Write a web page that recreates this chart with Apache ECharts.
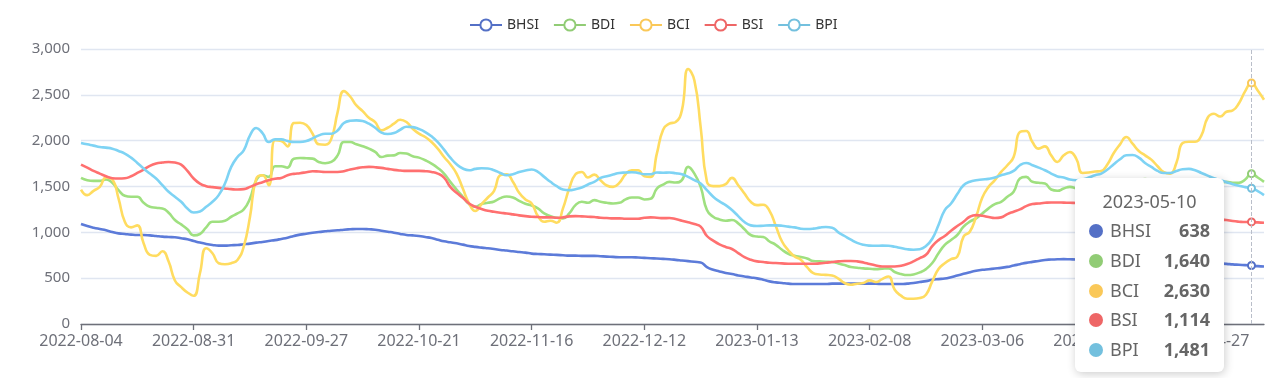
<!DOCTYPE html>
<html>
<head>
<meta charset="utf-8">
<script src="https://cdn.jsdelivr.net/npm/echarts@6/dist/echarts.min.js"></script>
<style>
html,body{margin:0;padding:0;background:#fff;}
#chart{width:1288px;height:378px;}
</style>
</head>
<body>
<div id="chart"></div>
<script>
// ---- categories: Baltic Exchange publication days ----
const firstDay = '2022-08-04';
const lastDay = '2023-05-12';
const closedDays = ['2022-08-29','2022-09-19','2022-12-26','2022-12-27','2022-12-28','2022-12-29','2022-12-30','2023-01-02','2023-04-07','2023-04-10','2023-05-01','2023-05-08'];
function pad(n){return (n<10?'0':'')+n;}
function publicationDays(){
  const out=[];
  const d=new Date(firstDay+'T00:00:00Z');
  const end=new Date(lastDay+'T00:00:00Z');
  while(d<=end){
    const s=d.getUTCFullYear()+'-'+pad(d.getUTCMonth()+1)+'-'+pad(d.getUTCDate());
    const wd=d.getUTCDay();
    if(wd!==0&&wd!==6&&closedDays.indexOf(s)<0) out.push(s);
    d.setUTCDate(d.getUTCDate()+1);
  }
  return out;
}
const dates = publicationDays();

const seriesNames = ['BHSI','BDI','BCI','BSI','BPI'];
const yTicks = {min:0, max:3000, step:500};

const BHSI = [
1091,1069,1051,1036,1022,1004,989,982,975,971,971,967,960,953,949,946,935,924,906,888,873,862,855,855,859,862,870,877,888,895,906,915,
928,942,960,975,985,996,1004,1011,1018,1022,1029,1033,1036,1036,1033,1029,1018,1007,996,982,971,967,960,949,938,920,902,891,880,866,851,
841,833,826,819,808,801,793,786,779,768,764,761,757,754,750,746,746,743,743,743,739,735,732,728,728,728,725,721,717,714,710,
706,700,693,686,679,672,
621,592,574,556,545,530,519,508,498,483,465,454,447,440,436,436,436,436,436,436,440,440,440,440,440,440,440,440,436,436,436,436,440,447,458,468,483,490,
496,511,529,547,565,580,591,598,605,612,623,638,652,667,678,688,699,703,706,
708,706,704,703,702,701,700,700,699,698,697,695,693,690,688,686,684,682,680,678,675,672,669,666,663,660,656,650,646,642,638,631,627
];
const BDI = [
1594,1569,1561,1561,1576,1540,1460,1399,1388,1388,1322,1279,1268,1261,1214,1134,1087,1033,967,982,1054,1116,1116,1127,1170,1206,1250,1369,1569,1623,1605,1721,
1721,1706,1804,1811,1808,1804,1768,1754,1768,1840,1985,1985,1960,1938,1913,1877,1822,1837,1840,1866,1859,1830,1815,1786,1750,1703,1641,1551,1467,1388,1308,
1279,1308,1322,1337,1373,1391,1380,1344,1312,1293,1261,1206,1177,1159,1152,1206,1297,1333,1322,1351,1333,1322,1315,1322,1359,1380,1380,1359,1366,1478,1520,
1551,1543,1569,1714,1641,1496,1243,1170,1141,1127,1134,1098,1033,971,
955,948,900,864,810,766,745,730,715,687,683,679,676,661,643,621,614,607,603,599,603,607,567,545,534,541,563,599,665,772,
862,917,971,1062,1116,1152,1206,1261,1308,1333,1388,1442,1587,1605,1551,1540,1532,1467,1453,
1478,1496,1478,1460,1430,1410,1400,1410,1430,1460,1500,1540,1560,1580,1570,1560,1550,1545,1540,1545,1555,1560,1555,1550,1545,1540,1551,1540,1540,1576,1640,1598,1551
];
const BCI = [
1467,1406,1453,1496,1598,1576,1369,1116,1054,1076,880,754,743,793,681,475,402,344,308,554,826,772,663,652,663,699,844,1170,1587,1623,1514,2004,
1996,1938,2192,2196,2170,2076,1960,1956,2022,2311,2540,2482,2384,2322,2250,2203,2112,2141,2185,2228,2203,2130,2076,2040,1985,1913,1822,1743,1641,1478,1315,
1232,1308,1380,1453,1623,1634,1551,1431,1359,1315,1177,1116,1127,1105,1261,1478,1634,1659,1598,1630,1569,1511,1496,1540,1634,1677,1677,1612,1605,1859,2120,
2185,2203,2330,2782,2656,2148,1551,1504,1504,1525,1594,1514,1424,1333,1297,1301,1235,1070,
900,805,736,700,620,555,540,536,530,495,447,428,440,447,476,458,490,519,374,309,276,276,283,320,465,599,
663,707,735,953,1007,1170,1380,1496,1569,1659,1732,1822,2094,2105,1985,1913,1938,1840,1768,
1840,1877,1804,1648,1652,1663,1670,1743,1866,1960,2040,1967,1888,1840,1793,1721,1656,1641,1757,1975,1989,1989,2058,2250,2293,2264,2315,2330,2409,2540,2630,2547,2446
];
const BSI = [
1739,1706,1670,1641,1612,1590,1587,1590,1612,1648,1685,1725,1750,1761,1768,1761,1739,1670,1587,1532,1504,1493,1485,1478,1471,1467,1471,1496,1525,1547,1569,1585,
1594,1623,1638,1645,1656,1667,1663,1659,1659,1659,1667,1685,1699,1710,1714,1710,1703,1692,1681,1674,1670,1670,1670,1667,1659,1641,1598,1496,1431,1377,1315,
1279,1254,1235,1225,1214,1206,1196,1185,1177,1170,1167,1163,1163,1159,1163,1174,1177,1174,1170,1167,1159,1156,1152,1152,1148,1148,1148,1159,1163,1159,1155,
1156,1145,1127,1109,1091,1062,
960,910,868,840,818,774,730,701,683,676,668,665,661,657,657,657,657,657,661,668,676,683,687,687,683,672,654,639,628,628,628,636,654,683,719,755,850,915,
960,1018,1069,1116,1170,1188,1181,1167,1156,1163,1199,1225,1250,1286,1308,1315,1322,1326,1326,
1324,1322,1320,1318,1315,1310,1305,1298,1290,1282,1275,1268,1260,1250,1240,1230,1220,1210,1200,1190,1180,1170,1160,1152,1145,1140,1134,1123,1116,1112,1114,1109,1105
];
const BPI = [
1975,1960,1946,1931,1924,1913,1888,1859,1815,1757,1696,1641,1587,1514,1442,1388,1333,1261,1217,1228,1279,1333,1406,1532,1714,1822,1895,2058,2138,2083,1985,2014,
2014,1996,1985,1985,1996,2025,2058,2076,2076,2112,2192,2217,2221,2214,2185,2141,2087,2072,2083,2119,2152,2148,2127,2094,2047,1985,1902,1815,1743,1696,1677,
1692,1699,1696,1677,1648,1623,1634,1659,1674,1685,1659,1605,1551,1503,1467,1460,1471,1489,1522,1551,1594,1612,1630,1648,1652,1656,1648,1634,1634,1652,1650,
1652,1645,1634,1605,1569,1532,1460,1388,1337,1297,1243,1177,1112,1076,1069,1072,1076,1076,1072,1062,1054,1040,1036,1040,1051,1058,1051,1000,960,920,885,864,855,853,855,853,843,828,815,810,815,850,930,1080,
1243,1315,1417,1514,1551,1569,1576,1583,1598,1623,1641,1670,1732,1757,1732,1706,1677,1641,1610,
1598,1576,1569,1576,1598,1623,1641,1685,1743,1797,1840,1844,1815,1757,1714,1670,1648,1648,1670,1688,1692,1677,1648,1619,1590,1569,1547,1525,1507,1493,1481,1449,1406
];
const seriesValues = [BHSI, BDI, BCI, BSI, BPI];
const colors = ['#5470c6','#91cc75','#fac858','#ee6666','#73c0de'];
const hoverDate = '2023-05-10';

const FONT = "'Noto Sans', 'DejaVu Sans', sans-serif";
function fmt(v){return Number(v).toLocaleString('en-US');}

const chart = echarts.init(document.getElementById('chart'), null, {renderer:'canvas'});
const option = {
  animation:false,
  color:colors,
  textStyle:{fontFamily:FONT},
  legend:{
    data:seriesNames, left:464, top:13, itemWidth:32, itemHeight:14, itemGap:14,
    textStyle:{fontSize:14, color:'#333', fontFamily:FONT}
  },
  grid:{left:81, right:24, top:49, bottom:54, containLabel:false},
  tooltip:{
    trigger:'axis', triggerOn:'none', alwaysShowContent:true, transitionDuration:0,
    position:[1075,178], padding:0, borderWidth:0, backgroundColor:'#fff',
    extraCssText:'border-radius:6px;box-shadow:1px 2px 10px rgba(0,0,0,0.2);',
    axisPointer:{type:'line', lineStyle:{color:'#B9BEC9', width:1, type:'dashed'}},
    formatter:function(params){
      let h='<div style="width:149px;height:194px;box-sizing:border-box;padding-top:8px;font-family:'+FONT.replace(/'/g,'')+';color:#666;">';
      h+='<div style="height:30px;line-height:30px;text-align:center;font-size:18px;">'+params[0].axisValue+'</div>';
      params.forEach(function(p){
        h+='<div style="height:29.8px;line-height:29.8px;font-size:18px;position:relative;">'+
           '<span style="position:absolute;left:14px;top:8px;width:14px;height:14px;border-radius:7px;background:'+p.color+';"></span>'+
           '<span style="position:absolute;left:35px;top:0;">'+p.seriesName+'</span>'+
           '<span style="position:absolute;right:14px;top:0;font-weight:bold;">'+fmt(p.value)+'</span></div>';
      });
      h+='</div>';
      return h;
    }
  },
  xAxis:{
    type:'category', data:dates, boundaryGap:false,
    axisLine:{lineStyle:{color:'#6E7079', width:1.3}},
    axisTick:{interval:17, length:6, lineStyle:{color:'#6E7079', width:1.3}},
    axisLabel:{interval:17, fontSize:16, color:'#6E7079', margin:9, fontFamily:FONT}
  },
  yAxis:{
    type:'value', min:yTicks.min, max:yTicks.max, interval:yTicks.step,
    axisLabel:{fontSize:15, color:'#6E7079', margin:11, fontFamily:FONT, formatter:fmt},
    splitLine:{lineStyle:{color:'#E0E6F1', width:1.3}}
  },
  series: seriesNames.map(function(n,k){
    return {
      name:n, type:'line', data:seriesValues[k], smooth:true,
      showSymbol:false, symbol:'emptyCircle', symbolSize:7,
      lineStyle:{width:2.6},
      itemStyle:{borderWidth:2},
      emphasis:{scale:false, lineStyle:{width:2.6}}
    };
  })
};
chart.setOption(option);
chart.dispatchAction({type:'showTip', seriesIndex:0, dataIndex:dates.indexOf(hoverDate)});
</script>
</body>
</html>
